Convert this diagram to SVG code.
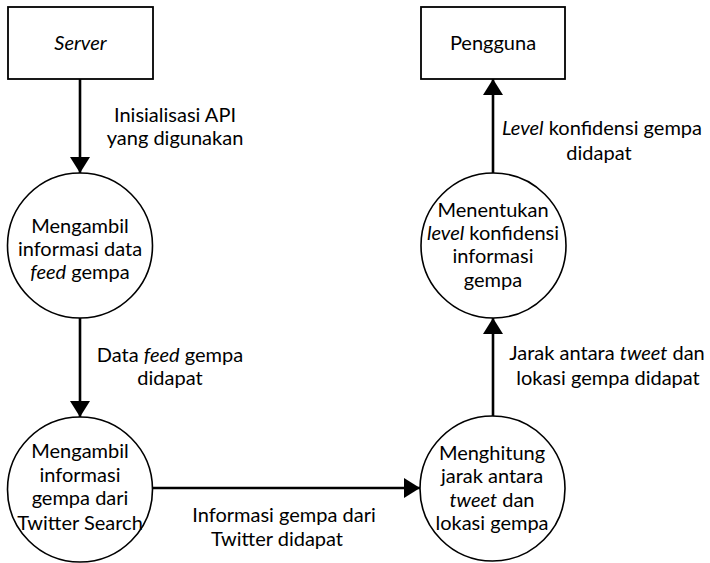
<svg xmlns="http://www.w3.org/2000/svg" width="710" height="563" viewBox="0 0 710 563">
  <style>
    text { font-family: Lato, "Open Sans", "Liberation Sans", sans-serif; font-size: 20px; fill: #000; text-anchor: middle; }
    .it { font-style: italic; }
    .box { fill: #fff; stroke: #000; stroke-width: 1.8; }
    .proc { fill: #fff; stroke: #000; stroke-width: 1.6; }
    .flow { fill: none; stroke: #000; stroke-width: 2.6; marker-end: url(#head); }
  </style>
  <defs>
    <marker id="head" viewBox="0 0 16 20" refX="16" refY="10" markerWidth="16" markerHeight="20" markerUnits="userSpaceOnUse" orient="auto">
      <path d="M0,0 L16,10 L0,20 Z" fill="#000"/>
    </marker>
  </defs>
  <rect width="710" height="563" fill="#fff"/>

  <!-- data flows -->
  <g id="connectors">
    <line class="flow" x1="80" y1="79" x2="80" y2="173"/>
    <line class="flow" x1="80" y1="318" x2="80" y2="417"/>
    <line class="flow" x1="152.5" y1="488" x2="420" y2="488"/>
    <line class="flow" x1="493" y1="417" x2="493" y2="318"/>
    <line class="flow" x1="493" y1="173" x2="493" y2="79"/>
    <text x="175" y="122">Inisialisasi API</text>
    <text x="175" y="145">yang digunakan</text>
    <text x="170" y="362">Data <tspan class="it">feed</tspan> gempa</text>
    <text x="170" y="385">didapat</text>
    <text x="284" y="522">Informasi gempa dari</text>
    <text x="277" y="546">Twitter didapat</text>
    <text x="607" y="360">Jarak antara <tspan class="it">tweet</tspan> dan</text>
    <text x="608" y="385">lokasi gempa didapat</text>
    <text x="602" y="135"><tspan class="it">Level</tspan> konfidensi gempa</text>
    <text x="599" y="160">didapat</text>
  </g>

  <!-- external entities -->
  <g id="server">
    <rect class="box" x="8" y="7" width="145" height="72"/>
    <text class="it" x="80.5" y="50">Server</text>
  </g>
  <g id="pengguna">
    <rect class="box" x="421" y="7" width="144" height="72"/>
    <text x="493" y="50">Pengguna</text>
  </g>

  <!-- processes -->
  <g id="ambil-feed">
    <circle class="proc" cx="80" cy="245.5" r="72.5"/>
    <text x="80" y="233">Mengambil</text>
    <text x="80" y="256">informasi data</text>
    <text x="80" y="279"><tspan class="it">feed</tspan> gempa</text>
  </g>
  <g id="ambil-twitter">
    <circle class="proc" cx="80" cy="489.5" r="72.5"/>
    <text x="80" y="458">Mengambil</text>
    <text x="80" y="482">informasi</text>
    <text x="80" y="505">gempa dari</text>
    <text x="80" y="530">Twitter Search</text>
  </g>
  <g id="hitung-jarak">
    <circle class="proc" cx="492.5" r="72.5" cy="488.5"/>
    <text x="492" y="460">Menghitung</text>
    <text x="492" y="483">jarak antara</text>
    <text x="492" y="507"><tspan class="it">tweet</tspan> dan</text>
    <text x="492" y="530">lokasi gempa</text>
  </g>
  <g id="tentukan-level">
    <circle class="proc" cx="493.5" cy="245.5" r="72.5"/>
    <text x="493" y="217">Menentukan</text>
    <text x="493" y="240"><tspan class="it">level</tspan> konfidensi</text>
    <text x="493" y="263">informasi</text>
    <text x="493" y="287">gempa</text>
  </g>
</svg>
